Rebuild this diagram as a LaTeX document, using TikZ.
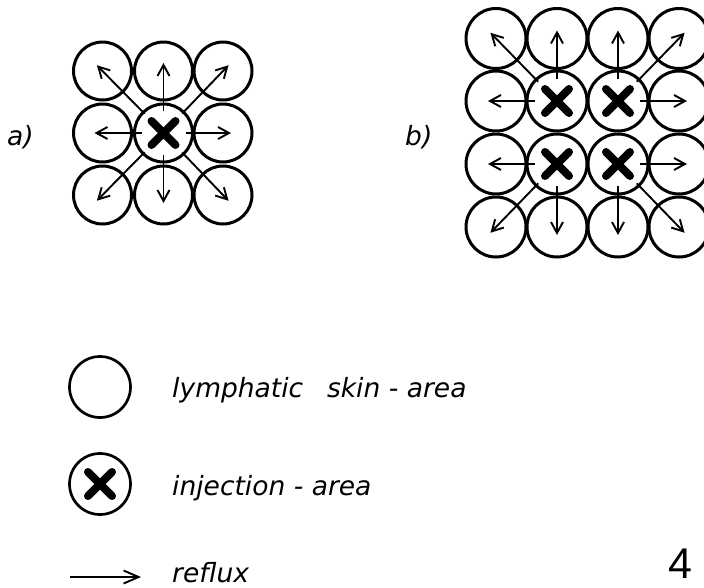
\documentclass[tikz,border=0pt]{standalone}
\usepackage{fontspec}
\setmainfont{Liberation Sans}
\newfontfamily\labfont{DejaVu Sans}
\usetikzlibrary{arrows.meta,calc}
\newcommand\injX[1]{\draw[xstroke] ($(#1)+(-12,-12)$) -- ($(#1)+(12,12)$) ($(#1)+(-12,12)$) -- ($(#1)+(12,-12)$);}
\newcommand\refl[3][22pt]{\draw[flow] ($(#2)!#1!(#3)$) -- ($(#3)!-8pt!(#2)$);}
\begin{document}
\begin{tikzpicture}[x=1pt,y=-1pt,
  cell/.style={circle,draw,line width=3pt,minimum size=58pt,inner sep=0pt},
  cellb/.style={cell,minimum size=60pt},
  xstroke/.style={line width=8pt,line cap=round},
  flow/.style={line width=1.9pt,-{Straight Barb[length=11pt,width=12pt]}},
  lab/.style={font=\labfont\itshape\fontsize{26.5}{31}\selectfont,anchor=base west,inner sep=0pt},
]
\useasboundingbox (0,0) rectangle (704,587);
\begin{scope}
\clip (0,0) rectangle (704,587);
% ---------- a) ----------
\foreach \c/\x in {1/102.5,2/163.5,3/223}
  \foreach \r/\y in {1/71,2/133,3/195}
    \node[cell] (a\r\c) at (\x,\y) {};
\injX{a22}
\refl{a22}{a12}
\refl{a22}{a21}
\refl{a22}{a23}
\refl{a22}{a32}
\refl[27pt]{a22}{a11}
\refl[27pt]{a22}{a13}
\refl[27pt]{a22}{a31}
\refl[27pt]{a22}{a33}

% ---------- b) ----------
\foreach \c/\x in {1/496,2/557,3/618,4/679}
  \foreach \r/\y in {1/38.5,2/101,3/164,4/227}
    \node[cellb] (b\r\c) at (\x,\y) {};
\injX{b22}\injX{b23}\injX{b32}\injX{b33}
\refl{b22}{b12}
\refl{b22}{b21}
\refl[27pt]{b22}{b11}
\refl{b23}{b13}
\refl{b23}{b24}
\refl[27pt]{b23}{b14}
\refl{b32}{b31}
\refl{b32}{b42}
\refl[27pt]{b32}{b41}
\refl{b33}{b34}
\refl{b33}{b43}
\refl[27pt]{b33}{b44}
\end{scope}
\node[lab] (la) at (7,145) {a)};
\node[lab] (lb) at (405,145) {b)};

% ---------- legend ----------
\node[cell,minimum size=61pt,line width=2.7pt] (L1) at (100,387) {};
\node[lab] (t1) at (172,397) {lymphatic\hspace{0.9em}skin - area};
\node[cell,minimum size=61pt,line width=2.7pt] (L2) at (100,484) {};
\injX{L2}
\node[lab] (t2) at (172,495) {injection - area};
\coordinate (r0) at (70,577);
\coordinate (r1) at (141,577);
\draw[line width=1.9pt,-{Straight Barb[length=15pt,width=13pt]}] (r0) -- (r1);
\node[lab] (t3) at (172,582) {reflux};
\node[font=\fontsize{43}{48}\selectfont,anchor=base west,inner sep=0pt] (num) at (668,578) {4};
\end{tikzpicture}
\end{document}
